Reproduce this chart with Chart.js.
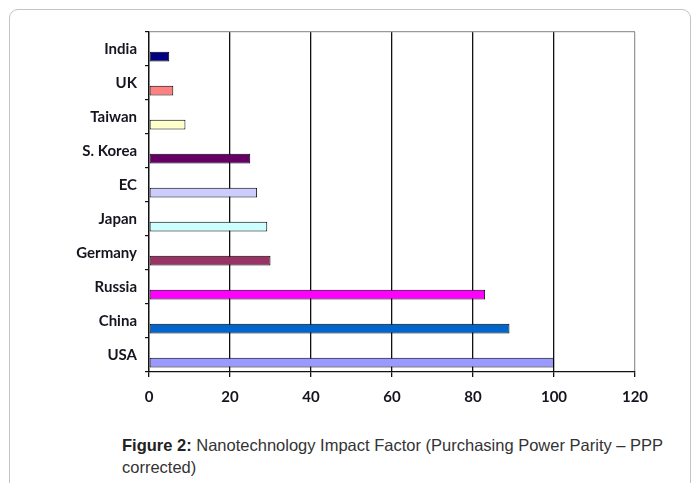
<!DOCTYPE html>
<html>
<head>
<meta charset="utf-8">
<script src="https://cdn.jsdelivr.net/npm/chart.js@4/dist/chart.umd.min.js"></script>
<style>
  html, body { margin: 0; padding: 0; background: #fff; }
  body { width: 694px; height: 483px; position: relative; overflow: hidden; }
  .frame { position: absolute; left: 9px; top: 9px; width: 682px; height: 520px;
           border: 1px solid #c4c4c4; border-radius: 9px; box-sizing: border-box; }
  .wrap { position: absolute; left: 0; top: 0; width: 694px; height: 412px; }
  .cap { position: absolute; left: 122px; top: 434px; width: 566px;
         font-family: "Liberation Sans", Arial, sans-serif; font-size: 16.5px; line-height: 22px; color: #333; }
  .cap b { color: #222; }
</style>
</head>
<body>
<div class="frame"></div>
<div class="wrap"><canvas id="chart"></canvas></div>
<div class="cap"><b>Figure 2:</b> Nanotechnology Impact Factor (Purchasing Power Parity – PPP corrected)</div>
<script>
/* Nanotechnology Impact Factor — horizontal bars, one colour per country */
const countries = ['India', 'UK', 'Taiwan', 'S. Korea', 'EC', 'Japan', 'Germany', 'Russia', 'China', 'USA'];
const impact = [5, 6, 9, 25, 26.7, 29.2, 30, 83, 89, 100];
const barColors = ['#000080', '#ff8080', '#ffffcc', '#660066', '#ccccff', '#ccffff', '#993366', '#ff00ff', '#0066cc', '#9999ff'];
const xTicks = [0, 20, 40, 60, 80, 100, 120];

const LABEL_FONT = { family: 'Lato', size: 15, weight: 'bold' };

new Chart(document.getElementById('chart'), {
  type: 'bar',
  data: {
    labels: countries,
    datasets: [
      // empty first series: leaves the gap above each bar, as in the source sheet
      { label: '', data: [] },
      { label: 'Impact factor', data: impact, backgroundColor: barColors, borderColor: '#000',
        borderWidth: 1, borderSkipped: false },
    ],
  },
  options: {
    indexAxis: 'y', responsive: true, maintainAspectRatio: false, animation: false,
    categoryPercentage: 0.9, barPercentage: 0.63,
    layout: { padding: { left: 0, right: 59, top: 32, bottom: 0 } },
    plugins: { legend: { display: false }, tooltip: { enabled: false } },
    scales: {
      x: {
        min: 0, max: 120,
        afterBuildTicks: s => { s.ticks = xTicks.map(v => ({ value: v })); },
        afterFit: s => { s.height = 40; },
        grid: { color: c => c.index === 6 ? '#9a9a9a' : '#111', lineWidth: 1.3, tickLength: 5, tickColor: '#111' },
        border: { color: '#111', width: 1.3 },
        ticks: { color: '#15151f', font: LABEL_FONT, padding: 11 },
      },
      y: {
        afterFit: s => { s.width = 149; },
        grid: { offset: true, color: c => c.index === 0 ? '#9a9a9a' : 'transparent', tickColor: '#111', tickLength: 4, lineWidth: 1.2 },
        border: { color: '#111', width: 1.3 },
        ticks: { color: '#15151f', font: LABEL_FONT, padding: 8, labelOffset: 0 },
      },
    },
  },
});
</script>
</body>
</html>
